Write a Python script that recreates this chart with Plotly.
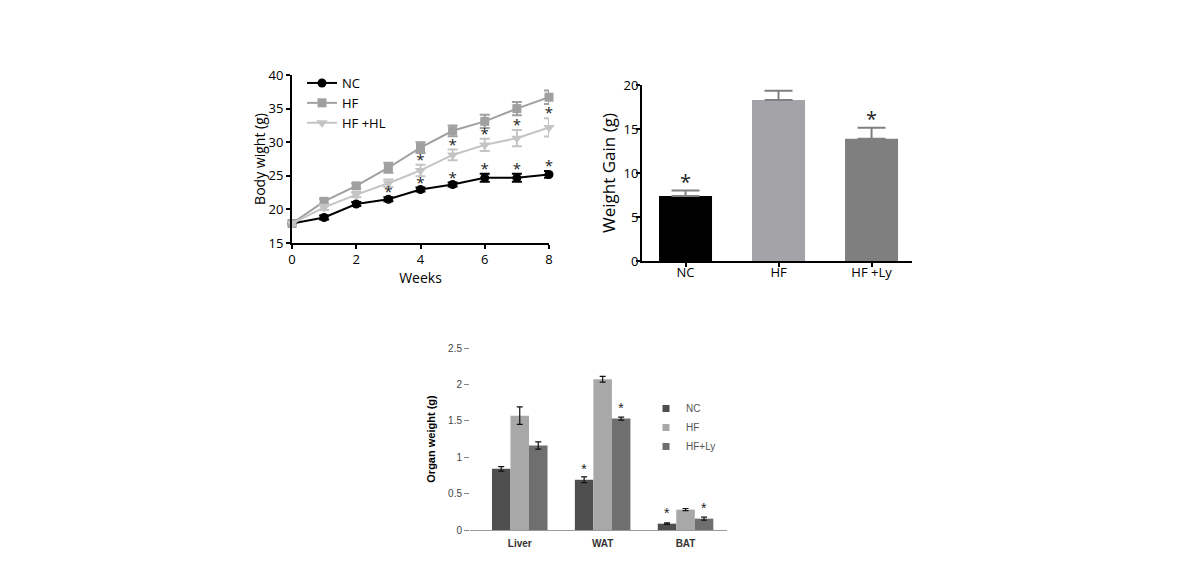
import plotly.graph_objects as go

W, H = 1190, 580
def px(x): return x / W
def py(y): return 1 - y / H

# ---- Data: body weight over weeks ----
weeks = [0, 1, 2, 3, 4, 5, 6, 7, 8]
nc_bw = [17.9, 18.8, 20.8, 21.5, 22.95, 23.7, 24.7, 24.7, 25.2]
nc_bw_err = [0.3, 0.3, 0.3, 0.3, 0.3, 0.3, 0.6, 0.6, 0.5]
hf_bw = [17.9, 21.2, 23.5, 26.2, 29.2, 31.7, 33.1, 35.0, 36.7]
hf_bw_err = [0.3, 0.4, 0.4, 0.75, 0.8, 0.8, 1.0, 1.0, 1.0]
hl_bw = [17.9, 20.3, 22.2, 23.9, 25.8, 28.1, 29.6, 30.6, 32.2]
hl_bw_err = [0.3, 0.4, 0.4, 0.55, 0.85, 0.8, 0.9, 1.2, 1.35]
nc_star = ["", "", "", "*", "*", "*", "*", "*", "*"]
hl_star = ["", "", "", "", "*", "*", "*", "*", "*"]

# ---- Data: weight gain ----
gain_groups = ["NC", "HF", "HF +Ly"]
gain_vals = [7.4, 18.3, 13.9]
gain_err = [0.6, 1.05, 1.25]
gain_star = ["*", "", "*"]
gain_colors = ["#000000", "#a3a3a8", "#7f7f7f"]

# ---- Data: organ weight ----
organs = ["Liver", "WAT", "BAT"]
org_nc = [0.84, 0.69, 0.087]
org_nc_err = [0.03, 0.04, 0.01]
org_hf = [1.57, 2.07, 0.28]
org_hf_err = [0.12, 0.04, 0.015]
org_hl = [1.16, 1.53, 0.156]
org_hl_err = [0.05, 0.02, 0.02]
org_nc_star = ["", "*", "*"]
org_hf_star = ["", "", ""]
org_hl_star = ["", "*", "*"]

FONT = "Open Sans"
fig = go.Figure()

# ---------- Panel 1: body weight lines ----------
series = [
    ("NC", nc_bw, nc_bw_err, "#000000", "circle", 9),
    ("HF", hf_bw, hf_bw_err, "#a0a0a0", "square", 9),
    ("HF +HL", hl_bw, hl_bw_err, "#c4c4c4", "triangle-down", 10),
]
for name, y, e, c, sym, sz in series:
    fig.add_trace(go.Scatter(
        x=weeks, y=y, name=name, mode="lines+markers",
        line=dict(color=c, width=2),
        marker=dict(symbol=sym, size=sz, color=c),
        error_y=dict(type="data", array=e, color=c, thickness=2, width=5),
        xaxis="x", yaxis="y", legend="legend", cliponaxis=False,
    ))

for y, e, s in [(nc_bw, nc_bw_err, nc_star), (hl_bw, hl_bw_err, hl_star)]:
    fig.add_trace(go.Scatter(
        x=weeks, y=[v + er + 0.55 for v, er in zip(y, e)], text=s,
        mode="text", textposition="middle center",
        textfont=dict(size=15, color="#222222", family=FONT),
        showlegend=False, xaxis="x", yaxis="y", cliponaxis=False,
    ))

# ---------- Panel 2: weight gain bars ----------
fig.add_trace(go.Bar(
    x=gain_groups, y=gain_vals, width=0.57,
    marker=dict(color=gain_colors, line=dict(width=0)),
    error_y=dict(type="data", symmetric=False, array=gain_err,
                 arrayminus=[0, 0, 0], color="#808080", thickness=2, width=14),
    showlegend=False, xaxis="x2", yaxis="y2",
))
for c, v, e, s in zip(gain_groups, gain_vals, gain_err, gain_star):
    if s:
        fig.add_annotation(x=c, y=v + e, text=s, showarrow=False,
                           xref="x2", yref="y2", yanchor="bottom", yshift=-6,
                           font=dict(size=20, color="#222222", family=FONT))

# ---------- Panel 3: organ weight grouped bars ----------
org_series = [
    ("NC", org_nc, org_nc_err, org_nc_star, "#4f4f4f"),
    ("HF", org_hf, org_hf_err, org_hf_star, "#a8a8a8"),
    ("HF+Ly", org_hl, org_hl_err, org_hl_star, "#6f6f6f"),
]
for name, y, e, s, c in org_series:
    fig.add_trace(go.Bar(
        x=organs, y=y, name=name, marker=dict(color=c, line=dict(width=0)),
        error_y=dict(type="data", array=e, color="#111111", thickness=1.2, width=3),
        text=s, textposition="outside", cliponaxis=False,
        textfont=dict(size=14, color="#222222", family="Liberation Sans"),
        xaxis="x3", yaxis="y3", showlegend=False,
    ))
    # legend entry with a small square swatch
    fig.add_trace(go.Scatter(
        x=[None], y=[None], name=name, mode="markers",
        marker=dict(symbol="square", size=7, color=c),
        xaxis="x3", yaxis="y3", legend="legend2",
    ))

axis_common = dict(showgrid=False, zeroline=False, showline=True,
                   linecolor="#000000", linewidth=2, ticks="outside",
                   ticklen=4, tickwidth=2, tickcolor="#000000", automargin=False)

fig.update_layout(
    width=W, height=H, margin=dict(l=0, r=0, t=0, b=0, autoexpand=False),
    paper_bgcolor="white", plot_bgcolor="white",
    barmode="group", bargap=0.33, bargroupgap=0,
    font=dict(family=FONT, color="#000000"),
    xaxis=dict(**axis_common, domain=[px(292), px(549)], range=[0, 8],
               tickvals=[0, 2, 4, 6, 8], tickfont=dict(size=13),
               ticklabelstandoff=-1,
               title=dict(text="Weeks", font=dict(size=14), standoff=0),
               anchor="y"),
    yaxis=dict(**axis_common, domain=[py(243), py(75)], range=[15, 40],
               tickvals=[15, 20, 25, 30, 35, 40], tickfont=dict(size=13),
               title=dict(text="Body wight (g)", font=dict(size=14), standoff=0),
               anchor="x"),
    xaxis2=dict(**axis_common, domain=[px(642), px(912)], range=[-0.468, 2.435],
                tickfont=dict(size=13), ticklabelstandoff=-6, anchor="y2"),
    yaxis2=dict(**axis_common, domain=[py(261), py(85)], range=[0, 20],
                tickvals=[0, 5, 10, 15, 20], tickfont=dict(size=13),
                ticklabelstandoff=-5,
                title=dict(text="Weight Gain (g)", font=dict(size=17), standoff=4),
                anchor="x2"),
    xaxis3=dict(showgrid=False, zeroline=False, showline=True,
                linecolor="#9a9a9a", linewidth=1, ticks="", automargin=False,
                domain=[px(470), px(727)], range=[-0.6, 2.5],
                ticklabelstandoff=4,
                tickfont=dict(size=10, color="#333333", family="Liberation Sans",
                              weight="bold"),
                anchor="y3"),
    yaxis3=dict(showgrid=False, zeroline=False, showline=False, automargin=False,
                ticks="outside", ticklen=5, tickwidth=1, tickcolor="#888888",
                domain=[py(530), py(348)], range=[0, 2.5],
                tickvals=[0, 0.5, 1, 1.5, 2, 2.5],
                ticktext=["0", "0.5", "1", "1.5", "2", "2.5"],
                tickfont=dict(size=10, color="#444444", family="Liberation Sans"),
                title=dict(text="<b>Organ weight (g)</b>",
                           font=dict(size=11, family="Liberation Sans"), standoff=10),
                anchor="x3"),
    legend=dict(x=px(302), y=py(68), xanchor="left", yanchor="top",
                bgcolor="rgba(0,0,0,0)", font=dict(size=13),
                itemwidth=30, tracegroupgap=0),
    legend2=dict(x=px(646), y=py(394), xanchor="left", yanchor="top",
                 bgcolor="rgba(0,0,0,0)",
                 font=dict(size=10, color="#555555", family="Liberation Sans"),
                 itemwidth=30),
)

fig.write_html("out.html",
               config={"displayModeBar": False},
               post_script="document.body.style.margin='0px';"
                           "document.body.style.padding='0px';")
